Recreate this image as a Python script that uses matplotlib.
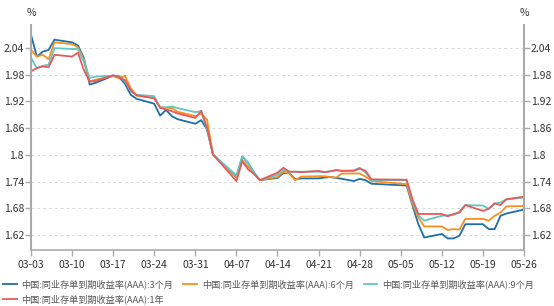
import numpy as np
import pandas as pd
import matplotlib
matplotlib.use("Agg")
import matplotlib.pyplot as plt
import matplotlib.dates as mdates

plt.rcParams['font.family'] = ['Noto Sans CJK SC', 'DejaVu Sans']

# trading days (2025)
dates = pd.to_datetime([
    "2025-03-03", "2025-03-04", "2025-03-05", "2025-03-06", "2025-03-07",
    "2025-03-10", "2025-03-11", "2025-03-12", "2025-03-13", "2025-03-14",
    "2025-03-17", "2025-03-18", "2025-03-19", "2025-03-20", "2025-03-21",
    "2025-03-24", "2025-03-25", "2025-03-26", "2025-03-27", "2025-03-28",
    "2025-03-31", "2025-04-01", "2025-04-02", "2025-04-03",
    "2025-04-07", "2025-04-08", "2025-04-09", "2025-04-10", "2025-04-11",
    "2025-04-14", "2025-04-15", "2025-04-16", "2025-04-17", "2025-04-18",
    "2025-04-21", "2025-04-22", "2025-04-23", "2025-04-24", "2025-04-25",
    "2025-04-27", "2025-04-28", "2025-04-29", "2025-04-30",
    "2025-05-06", "2025-05-07", "2025-05-08", "2025-05-09",
    "2025-05-12", "2025-05-13", "2025-05-14", "2025-05-15", "2025-05-16",
    "2025-05-19", "2025-05-20", "2025-05-21", "2025-05-22", "2025-05-23",
    "2025-05-26",
])

rate_3m = [
    2.070, 2.021, 2.032, 2.036, 2.059,
    2.053, 2.046, 2.018, 1.958, 1.962,
    1.978, 1.975, 1.960, 1.935, 1.926,
    1.915, 1.888, 1.901, 1.887, 1.880,
    1.870, 1.878, 1.857, 1.801,
    1.750, 1.796, 1.782, 1.760, 1.743,
    1.748, 1.759, 1.759, 1.745, 1.747,
    1.747, 1.749, 1.750, 1.748, 1.746,
    1.741, 1.746, 1.743, 1.735,
    1.731, 1.686, 1.644, 1.614,
    1.622, 1.612, 1.612, 1.618, 1.644,
    1.644, 1.633, 1.633, 1.663, 1.668,
    1.677,
]
rate_6m = [
    2.036, 2.021, 2.025, 2.015, 2.053,
    2.049, 2.042, 2.014, 1.965, 1.969,
    1.977, 1.972, 1.978, 1.950, 1.933,
    1.928, 1.907, 1.906, 1.905, 1.897,
    1.887, 1.893, 1.879, 1.801,
    1.750, 1.788, 1.774, 1.757, 1.743,
    1.750, 1.762, 1.758, 1.743, 1.751,
    1.752, 1.752, 1.750, 1.749, 1.758,
    1.758, 1.758, 1.751, 1.741,
    1.734, 1.690, 1.659, 1.639,
    1.639, 1.631, 1.633, 1.632, 1.656,
    1.656, 1.652, 1.663, 1.670, 1.684,
    1.685,
]
rate_9m = [
    2.018, 1.995, 2.000, 2.003, 2.040,
    2.038, 2.038, 2.010, 1.973, 1.976,
    1.978, 1.978, 1.965, 1.943, 1.935,
    1.932, 1.906, 1.907, 1.909, 1.905,
    1.896, 1.898, 1.857, 1.801,
    1.754, 1.796, 1.782, 1.760, 1.743,
    1.755, 1.766, 1.762, 1.762, 1.762,
    1.762, 1.761, 1.763, 1.765, 1.764,
    1.765, 1.771, 1.760, 1.743,
    1.743, 1.695, 1.664, 1.652,
    1.663, 1.664, 1.665, 1.672, 1.687,
    1.686, 1.678, 1.690, 1.693, 1.700,
    1.704,
]
rate_1y = [
    1.988, 1.995, 1.999, 1.997, 2.025,
    2.021, 2.030, 1.991, 1.965, 1.966,
    1.979, 1.975, 1.968, 1.945, 1.934,
    1.927, 1.906, 1.902, 1.898, 1.893,
    1.883, 1.899, 1.861, 1.801,
    1.741, 1.786, 1.767, 1.757, 1.743,
    1.760, 1.771, 1.762, 1.762, 1.761,
    1.764, 1.761, 1.763, 1.766, 1.764,
    1.764, 1.769, 1.764, 1.745,
    1.744, 1.700, 1.667, 1.667,
    1.667, 1.662, 1.667, 1.670, 1.687,
    1.674, 1.679, 1.691, 1.687, 1.700,
    1.706,
]

labels = [
    "中国:同业存单到期收益率(AAA):3个月",
    "中国:同业存单到期收益率(AAA):6个月",
    "中国:同业存单到期收益率(AAA):9个月",
    "中国:同业存单到期收益率(AAA):1年",
]
colors = ["#1f6ea6", "#f7901e", "#5fc7c4", "#e65a5b"]
yticks = [1.62, 1.68, 1.74, 1.8, 1.86, 1.92, 1.98, 2.04]
ytick_labels = ["1.62", "1.68", "1.74", "1.8", "1.86", "1.92", "1.98", "2.04"]

fig = plt.figure(figsize=(5.54, 3.06), dpi=100)
ax = fig.add_axes([31 / 554, 1 - 250 / 306, (524 - 31) / 554, 225 / 306])

lines = []
for vals, c, lab in zip([rate_3m, rate_6m, rate_9m, rate_1y], colors, labels):
    ln, = ax.plot(dates, vals, color=c, lw=1.3, label=lab)
    lines.append(ln)

ymin, ymax = 1.586, 2.092
ax.set_ylim(ymin, ymax)
ax.set_xlim(pd.Timestamp("2025-03-03"), pd.Timestamp("2025-05-26"))

xt = pd.date_range("2025-03-03", "2025-05-26", freq="7D")
ax.set_xticks(xt)
ax.xaxis.set_major_formatter(mdates.DateFormatter("%m-%d"))
ax.set_yticks(yticks)
ax.set_yticklabels(ytick_labels)
ax.grid(axis='y', color='#d9d9d9', ls=(0, (3, 3)), lw=0.7)

axis_col = '#aaaaaa'
for side in ['top', 'right']:
    ax.spines[side].set_visible(False)
ax.spines['left'].set_color(axis_col)
ax.spines['left'].set_linewidth(1.5)
ax.spines['bottom'].set_color(axis_col)
ax.spines['bottom'].set_linewidth(1.2)
ax.tick_params(axis='both', colors=axis_col, labelcolor='#333333', labelsize=7.5,
               length=4, width=1)
ax.tick_params(axis='x', pad=3)
ax.tick_params(axis='y', pad=1)

ax2 = ax.twinx()
ax2.set_ylim(ymin, ymax)
ax2.set_yticks(yticks)
ax2.set_yticklabels(ytick_labels)
for side in ['top', 'left', 'bottom']:
    ax2.spines[side].set_visible(False)
ax2.spines['right'].set_color(axis_col)
ax2.spines['right'].set_linewidth(1.5)
ax2.tick_params(axis='y', colors=axis_col, labelcolor='#333333', labelsize=7.5,
                length=4, width=1, pad=1)

fig.text(31 / 554, 1 - 13 / 306, "%", ha='center', va='center', fontsize=7.5, color='#333333')
fig.text(524 / 554, 1 - 13 / 306, "%", ha='center', va='center', fontsize=7.5, color='#333333')

# legend filled column-wise, so order gives rows: 3M 6M 9M / 1Y
order = [0, 3, 1, 2]
fig.legend([lines[i] for i in order], [labels[i] for i in order],
           loc='upper left', bbox_to_anchor=(3 / 554, 1 - 279 / 306),
           ncol=3, frameon=False, fontsize=6.6, handlelength=1.5, handletextpad=0.5,
           columnspacing=1.1, labelcolor='#555555', borderaxespad=0, borderpad=0,
           labelspacing=0.6)

fig.savefig("out.png", dpi=100)
